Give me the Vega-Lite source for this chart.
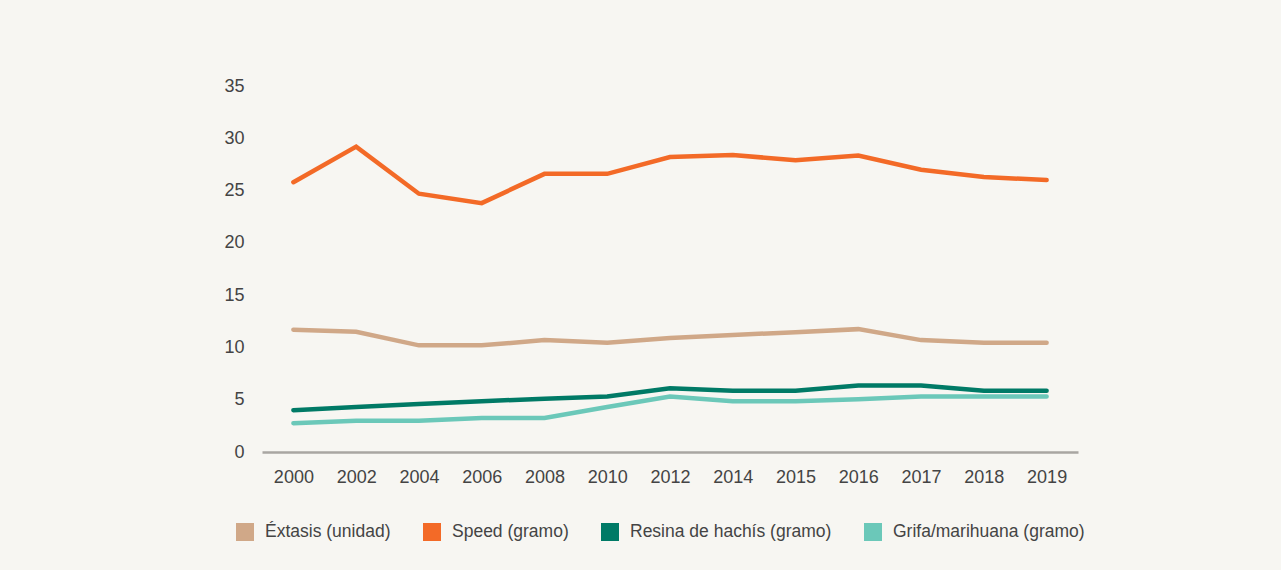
{
  "$schema": "https://vega.github.io/schema/vega-lite/v6.json",
  "autosize": {"type": "none"},
  "width": 816,
  "height": 366,
  "padding": {"left": 262, "top": 86, "right": 203, "bottom": 118},
  "background": "#f7f6f2",
  "config": {
    "view": {"stroke": null},
    "font": "Liberation Sans",
    "axis": {"labelFont": "Liberation Sans", "labelColor": "#444444", "labelFontSize": 18, "ticks": false, "grid": false, "title": null},
    "legend": {"labelFont": "Liberation Sans", "labelColor": "#444444", "labelFontSize": 17.5}
  },
  "data": {
    "values": [
      {"year": "2000", "drug": "Éxtasis (unidad)", "value": 11.7},
      {"year": "2002", "drug": "Éxtasis (unidad)", "value": 11.5},
      {"year": "2004", "drug": "Éxtasis (unidad)", "value": 10.2},
      {"year": "2006", "drug": "Éxtasis (unidad)", "value": 10.2},
      {"year": "2008", "drug": "Éxtasis (unidad)", "value": 10.7},
      {"year": "2010", "drug": "Éxtasis (unidad)", "value": 10.45},
      {"year": "2012", "drug": "Éxtasis (unidad)", "value": 10.9},
      {"year": "2014", "drug": "Éxtasis (unidad)", "value": 11.2},
      {"year": "2015", "drug": "Éxtasis (unidad)", "value": 11.45},
      {"year": "2016", "drug": "Éxtasis (unidad)", "value": 11.75},
      {"year": "2017", "drug": "Éxtasis (unidad)", "value": 10.7},
      {"year": "2018", "drug": "Éxtasis (unidad)", "value": 10.45},
      {"year": "2019", "drug": "Éxtasis (unidad)", "value": 10.45},
      {"year": "2000", "drug": "Speed (gramo)", "value": 25.8},
      {"year": "2002", "drug": "Speed (gramo)", "value": 29.2},
      {"year": "2004", "drug": "Speed (gramo)", "value": 24.7},
      {"year": "2006", "drug": "Speed (gramo)", "value": 23.8},
      {"year": "2008", "drug": "Speed (gramo)", "value": 26.6},
      {"year": "2010", "drug": "Speed (gramo)", "value": 26.6},
      {"year": "2012", "drug": "Speed (gramo)", "value": 28.2},
      {"year": "2014", "drug": "Speed (gramo)", "value": 28.4},
      {"year": "2015", "drug": "Speed (gramo)", "value": 27.9},
      {"year": "2016", "drug": "Speed (gramo)", "value": 28.35},
      {"year": "2017", "drug": "Speed (gramo)", "value": 27.0},
      {"year": "2018", "drug": "Speed (gramo)", "value": 26.3},
      {"year": "2019", "drug": "Speed (gramo)", "value": 26.0},
      {"year": "2000", "drug": "Resina de hachís (gramo)", "value": 4.0},
      {"year": "2002", "drug": "Resina de hachís (gramo)", "value": 4.3},
      {"year": "2004", "drug": "Resina de hachís (gramo)", "value": 4.6},
      {"year": "2006", "drug": "Resina de hachís (gramo)", "value": 4.85},
      {"year": "2008", "drug": "Resina de hachís (gramo)", "value": 5.1},
      {"year": "2010", "drug": "Resina de hachís (gramo)", "value": 5.3},
      {"year": "2012", "drug": "Resina de hachís (gramo)", "value": 6.1},
      {"year": "2014", "drug": "Resina de hachís (gramo)", "value": 5.85},
      {"year": "2015", "drug": "Resina de hachís (gramo)", "value": 5.85},
      {"year": "2016", "drug": "Resina de hachís (gramo)", "value": 6.35},
      {"year": "2017", "drug": "Resina de hachís (gramo)", "value": 6.35},
      {"year": "2018", "drug": "Resina de hachís (gramo)", "value": 5.85},
      {"year": "2019", "drug": "Resina de hachís (gramo)", "value": 5.85},
      {"year": "2000", "drug": "Grifa/marihuana (gramo)", "value": 2.75},
      {"year": "2002", "drug": "Grifa/marihuana (gramo)", "value": 3.0},
      {"year": "2004", "drug": "Grifa/marihuana (gramo)", "value": 3.0},
      {"year": "2006", "drug": "Grifa/marihuana (gramo)", "value": 3.25},
      {"year": "2008", "drug": "Grifa/marihuana (gramo)", "value": 3.25},
      {"year": "2010", "drug": "Grifa/marihuana (gramo)", "value": 4.3},
      {"year": "2012", "drug": "Grifa/marihuana (gramo)", "value": 5.3},
      {"year": "2014", "drug": "Grifa/marihuana (gramo)", "value": 4.85},
      {"year": "2015", "drug": "Grifa/marihuana (gramo)", "value": 4.85},
      {"year": "2016", "drug": "Grifa/marihuana (gramo)", "value": 5.05},
      {"year": "2017", "drug": "Grifa/marihuana (gramo)", "value": 5.3},
      {"year": "2018", "drug": "Grifa/marihuana (gramo)", "value": 5.3},
      {"year": "2019", "drug": "Grifa/marihuana (gramo)", "value": 5.3}
    ]
  },
  "mark": {"type": "line", "strokeWidth": 4.5, "strokeCap": "round"},
  "encoding": {
    "x": {
      "field": "year",
      "type": "ordinal",
      "scale": {"type": "point", "padding": 0.5},
      "axis": {"labelAngle": 0, "labelPadding": 16, "domainColor": "#a9a6a2", "domainWidth": 2.5}
    },
    "y": {
      "field": "value",
      "type": "quantitative",
      "scale": {"domain": [0, 35], "nice": false},
      "axis": {"values": [0, 5, 10, 15, 20, 25, 30, 35], "domain": false, "labelPadding": 18}
    },
    "color": {
      "field": "drug",
      "type": "nominal",
      "sort": ["Éxtasis (unidad)", "Speed (gramo)", "Resina de hachís (gramo)", "Grifa/marihuana (gramo)"],
      "scale": {
        "domain": ["Éxtasis (unidad)", "Speed (gramo)", "Resina de hachís (gramo)", "Grifa/marihuana (gramo)"],
        "range": ["#d0a888", "#f36a27", "#007a66", "#6bc8b9"]
      },
      "legend": {
        "title": null,
        "orient": "none",
        "direction": "horizontal",
        "legendX": -26,
        "legendY": 437,
        "padding": 0,
        "symbolType": "square",
        "symbolSize": 324,
        "symbolStrokeWidth": 0,
        "labelOffset": 11,
        "columnPadding": 32,
        "labelLimit": 400,
        "encode": {
          "symbols": {"update": {"fill": {"scale": "color", "field": "value"}, "strokeWidth": {"value": 0}}}
        }
      }
    }
  }
}
